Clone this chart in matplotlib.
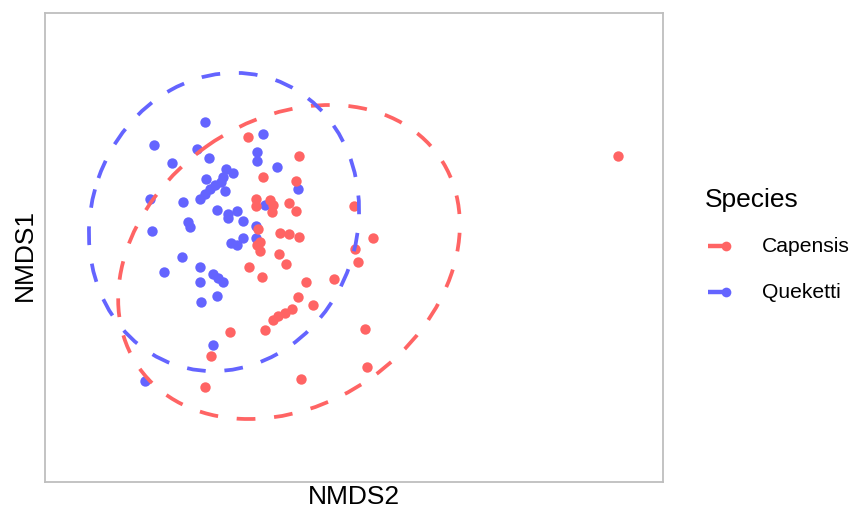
import numpy as np
import matplotlib.pyplot as plt
from matplotlib.patches import Ellipse
from matplotlib.lines import Line2D

plt.rcParams['font.family'] = ['Liberation Sans', 'DejaVu Sans']

# NMDS scores (arbitrary units, y grows downwards)
queketti_x = [205, 263, 154, 197, 209, 257, 257, 172, 277, 226, 233, 223, 206, 221,
              215, 210, 205, 200, 225, 150, 183, 298, 265, 217, 228, 237, 228, 243,
              188, 190, 256, 243, 256, 231, 237, 152, 182, 164, 200, 200, 213, 218,
              223, 217, 201, 213, 145]
queketti_y = [122, 134, 145, 149, 158, 152, 161, 163, 167, 169, 173, 177, 179, 182,
              185, 189, 194, 199, 191, 199, 202, 189, 205, 210, 214, 211, 218, 221,
              222, 227, 226, 238, 238, 243, 245, 231, 257, 272, 267, 282, 274, 278,
              282, 296, 302, 345, 381]

capensis_x = [248, 299, 263, 296, 256, 256, 270, 273, 272, 289, 296, 354, 258, 280,
              289, 299, 373, 260, 257, 260, 279, 286, 249, 262, 306, 334, 355, 358,
              298, 313, 273, 278, 285, 292, 265, 230, 365, 211, 367, 301, 205, 618]
capensis_y = [137, 156, 177, 181, 199, 206, 200, 205, 212, 203, 211, 206, 229, 233,
              234, 237, 238, 242, 245, 251, 254, 264, 267, 277, 282, 279, 249, 262,
              297, 305, 320, 316, 313, 309, 330, 332, 329, 356, 367, 379, 387, 156]

# 95% ellipses: centre, full width, full height, angle
capensis_ell = (289, 262, 367, 284, -35.2)
queketti_ell = (224, 222, 302, 266, -70.7)

red = '#FF6464'
blue = '#6464FF'

fig = plt.figure(figsize=(8.55, 5.14), dpi=100)
ax = fig.add_axes([45 / 855, 32 / 514, 618 / 855, 469 / 514])

ax.scatter(queketti_x, queketti_y, s=56, color=blue, linewidths=0, zorder=2)
ax.scatter(capensis_x, capensis_y, s=56, color=red, linewidths=0, zorder=3)

for (cx, cy, w, h, ang), col in [(capensis_ell, red), (queketti_ell, blue)]:
    e = Ellipse((cx, cy), w, h, angle=ang, fill=False, edgecolor=col, lw=2.7,
                linestyle=(0, (5, 5)), zorder=4)
    ax.add_patch(e)

ax.set_xlim(45, 663)
ax.set_ylim(482, 13)
ax.set_xticks([])
ax.set_yticks([])
for sp in ax.spines.values():
    sp.set_color('#BEBEBE')
    sp.set_linewidth(1.3)

fig.text(354 / 855, 1 - 497 / 514, 'NMDS2', ha='center', va='center', fontsize=19)
fig.text(25 / 855, 1 - 255 / 514, 'NMDS1', ha='center', va='center', fontsize=19,
         rotation=90)

# legend
fig.text(705 / 855, 1 - 200 / 514, 'Species', ha='left', va='center', fontsize=19)
for lab, col, yy in [('Capensis', red, 246), ('Queketti', blue, 292)]:
    yf = 1 - yy / 514
    fig.add_artist(Line2D([708 / 855, 728 / 855], [yf, yf], color=col, lw=3.2,
                          solid_capstyle='butt'))
    fig.add_artist(Line2D([726 / 855], [yf], marker='o', markersize=7,
                          color=col, markeredgewidth=0))
    fig.text(762 / 855, yf, lab, ha='left', va='center', fontsize=15.2)

fig.savefig('out.png', dpi=100)
